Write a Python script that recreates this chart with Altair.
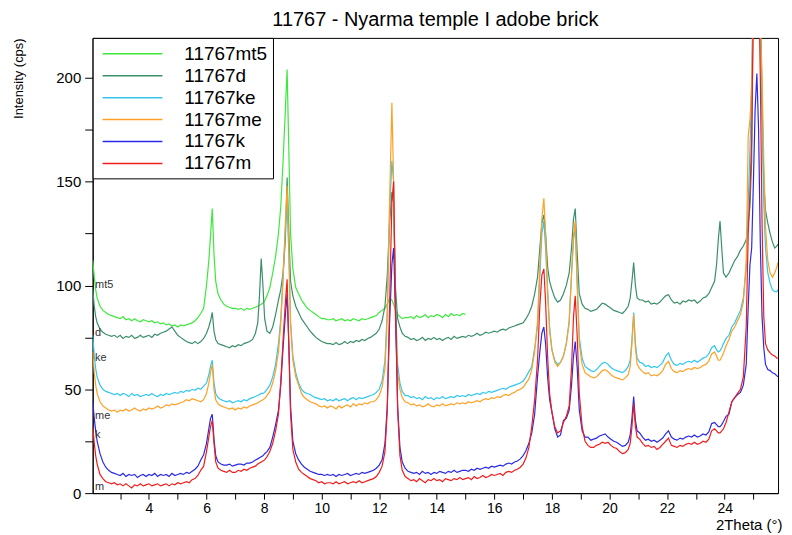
import altair as alt
import pandas as pd

FONT = "Liberation Sans, Arial, sans-serif"
TITLE = "11767 - Nyarma temple I adobe brick"
SERIES = ["11767mt5", "11767d", "11767ke", "11767me", "11767k", "11767m"]
COLORS = ["#3de83d", "#3a8f6a", "#33c6ee", "#ffa024", "#2a2ae6", "#f01c1c"]
SHORT = ["mt5", "d", "ke", "me", "k", "m"]
SHORT_X = 2.13
SHORT_Y = [100, 77, 65, 37, 28, 3]
X_TICKS = [3, 4, 5, 6, 7, 8, 9, 10, 11, 12, 13, 14, 15, 16, 17, 18, 19, 20, 21, 22, 23, 24, 25]
Y_TICKS = [0, 25, 50, 75, 100, 125, 150, 175, 200]

# shared 2Theta sampling positions, by segment
X_SEGS = [
    [2.05, 2.1, 2.15, 2.2, 2.3, 2.4, 2.5, 2.6, 2.7, 2.8, 2.9, 3.0, 3.1, 3.2, 3.3, 3.4, 3.5, 3.6, 3.7, 3.8,
     3.9, 4.0, 4.1, 4.2, 4.3, 4.4, 4.5, 4.6, 4.7, 4.8, 4.9, 5.0, 5.1, 5.2, 5.3, 5.4, 5.5, 5.6, 5.7, 5.8, 5.9],
    [6.0, 6.08, 6.14, 6.2, 6.26, 6.32, 6.4, 6.5, 6.6, 6.7, 6.8, 6.9, 7.0, 7.1, 7.2, 7.3, 7.4, 7.5, 7.6, 7.7,
     7.78, 7.84, 7.9, 7.96, 8.02, 8.1, 8.2, 8.3, 8.4, 8.5],
    [8.58, 8.66, 8.74, 8.8, 8.86, 8.92, 9.0, 9.1, 9.2, 9.3, 9.4],
    [9.5, 9.6, 9.7, 9.8, 9.9, 10.0, 10.1, 10.2, 10.3, 10.4, 10.5, 10.6, 10.7, 10.8, 10.9, 11.0, 11.1, 11.2,
     11.3, 11.4, 11.5, 11.6, 11.7, 11.8, 11.9, 12.0, 12.1],
    [12.2, 12.28, 12.36, 12.44, 12.5, 12.56, 12.64, 12.72, 12.8, 12.9],
    [13.0, 13.1, 13.2, 13.3, 13.4, 13.5, 13.6, 13.7, 13.8, 13.9, 14.0, 14.1, 14.2, 14.3, 14.4, 14.5, 14.6,
     14.7, 14.8, 14.9, 15.0, 15.1, 15.2, 15.3, 15.4, 15.5, 15.6, 15.7, 15.8, 15.9, 16.0, 16.1, 16.2, 16.3,
     16.4, 16.5, 16.6, 16.7, 16.8, 16.9, 17.0, 17.1, 17.2],
    [17.3, 17.4, 17.5, 17.58, 17.65, 17.72, 17.78, 17.85, 17.92, 18.0, 18.1, 18.2, 18.3],
    [18.4, 18.5, 18.6, 18.68, 18.75, 18.81, 18.88, 18.95, 19.05, 19.15],
    [19.25, 19.35, 19.45, 19.55, 19.65, 19.75, 19.85, 19.95, 20.05, 20.15, 20.25, 20.35, 20.45, 20.55,
     20.65, 20.72, 20.78, 20.84, 20.9, 20.96, 21.05],
    [21.15, 21.25, 21.35, 21.45, 21.55, 21.65, 21.75, 21.85, 21.95, 22.05, 22.15, 22.25, 22.35, 22.45,
     22.55, 22.65, 22.75, 22.85, 22.95, 23.05, 23.15, 23.25, 23.35, 23.45, 23.55, 23.65, 23.72, 23.78,
     23.84, 23.9, 23.96, 24.05],
    [24.15, 24.25, 24.35, 24.45, 24.55, 24.65, 24.75, 24.82, 24.88, 24.94, 25.0, 25.06, 25.12, 25.18,
     25.24, 25.3, 25.36, 25.42, 25.5, 25.58, 25.66, 25.74, 25.82, 25.85],
]

MT5 = [
    [112, 104, 98, 94, 90, 88, 87, 86, 85.5, 85, 84.5, 84, 85, 83.5, 84, 83, 84, 83, 82.5, 83.5,
     83, 82.5, 83, 82, 82.5, 81.5, 82, 81, 81.5, 80.5, 81, 80, 81, 80.5, 81, 81.5, 82, 83, 84.5, 86.5, 89],
    [100, 112, 124, 137, 115, 102, 96, 93, 91, 90, 89.5, 89, 89, 88.5, 89, 88, 89, 88.5, 89, 89.5,
     90, 90.5, 91, 91.5, 92.5, 95, 99, 106, 114, 125],
    [138, 160, 185, 204, 165, 125, 108, 99, 96, 93, 91],
    [89, 88, 87, 86, 85, 84, 84, 83.5, 83.5, 84, 83, 83.5, 84, 83, 83.5, 83, 84, 83.5, 83, 84,
     83.5, 84, 84.5, 85, 85.5, 87, 88],
    [89, 91, 94, 93, 91, 88, 86, 85, 84, 84.5],
    [84.5, 85, 84, 85.5, 84.5, 85, 86, 84.5, 85.5, 85, 86, 85.5, 84.5, 86, 85, 86.5, 85.5, 86, 85.5, 86.5, 86],
]

D = [
    [98, 90, 85, 82, 79, 77.5, 76.5, 76, 75.5, 76, 75, 76, 74.5, 75.5, 75, 76, 74.5, 75, 76, 75,
     75.5, 76, 75, 76.5, 76, 77, 77.5, 78, 79, 80, 78, 76, 75, 74, 73, 72.5, 72, 73, 72, 73, 74.5],
    [77, 80, 83, 87, 78, 74, 72, 71.5, 71, 70.5, 70, 71, 70.5, 71.5, 71, 72, 72.5, 73, 74, 77,
     82, 95, 113, 100, 84, 78, 77, 80, 86, 93],
    [98, 106, 122, 152, 125, 102, 95, 90, 87, 84, 82],
    [80, 78, 76.5, 75, 74, 73, 72.5, 72, 72, 71.5, 72.5, 71.5, 72, 73, 72, 73, 72.5, 73.5, 73, 74,
     73.5, 74.5, 75, 76, 77, 79, 83],
    [90, 105, 130, 145, 140, 100, 84, 80, 77, 75.5],
    [75, 74, 74.5, 73.5, 74, 75, 73.5, 74.5, 74, 75, 74, 74.5, 73.5, 74.5, 75, 74, 75.5, 74.5, 75, 75.5,
     75, 76, 75.5, 76, 77, 76, 76.5, 77.5, 77, 77.5, 78, 77.5, 78.5, 79, 78.5, 79.5, 80, 80.5, 81, 81.5,
     82, 84, 86.5],
    [90, 96, 104, 118, 130, 134, 125, 109, 102, 98, 94, 92, 93],
    [96, 100, 106, 118, 132, 137, 115, 96, 91, 89],
    [88.5, 87.5, 88, 88.5, 90, 91.5, 91, 90, 89, 88, 87.5, 87, 86.5, 88, 90, 94, 102, 111, 100, 94, 93],
    [93, 92, 92.5, 91, 91.5, 91, 92, 93.5, 95, 95.5, 93, 91.5, 92, 91, 92.5, 92, 93, 92.5, 93, 91.5,
     92.5, 94, 94.5, 96, 99, 102, 110, 122, 131, 118, 106, 104],
    [106, 109, 112, 114, 117, 119, 122, 130, 138, 160, 250, 260, 260, 260, 240, 190, 150, 136, 130, 125,
     121, 118, 119, 120],
]

KE = [
    [76, 66, 60, 56, 52, 50, 49, 48.5, 48, 47.5, 48, 47, 48, 47.5, 46.5, 48, 47, 47.5, 46.5, 47,
     47.5, 47, 48, 47, 46.5, 47.5, 47, 48, 47.5, 48, 48.5, 48, 49, 48.5, 49.5, 49, 50, 49.5, 50.5, 50, 51.5],
    [53, 57, 61, 64, 53, 48, 46, 45, 44.5, 44, 44.5, 43.5, 44, 44.5, 44, 45, 44.5, 45.5, 46, 46.5,
     47, 47.5, 48, 48, 48.5, 50, 52, 56, 62, 72],
    [84, 104, 128, 140, 115, 82, 66, 58, 53, 50, 48.5],
    [48, 47.5, 46.5, 46, 45.5, 45, 45.5, 44.5, 45, 44.5, 45.5, 44.5, 45, 45.5, 44.5, 45.5, 46, 45, 46, 45.5,
     46, 46.5, 47, 47.5, 48.5, 50, 54],
    [64, 88, 135, 160, 150, 95, 62, 53, 49, 47],
    [47, 46, 46.5, 45.5, 46, 45, 46.5, 45.5, 46, 45, 46, 45.5, 46.5, 45.5, 46, 46.5, 46, 47, 46.5, 47,
     46.5, 47.5, 47, 47.5, 48, 47.5, 48.5, 48, 49, 48.5, 49, 49.5, 50, 50.5, 50, 51, 51.5, 52, 52.5, 53,
     54, 56, 58.5],
    [61, 70, 80, 104, 125, 131, 118, 98, 80, 69, 64, 62, 63],
    [66, 72, 83, 105, 122, 128, 100, 75, 65, 61],
    [60, 59, 58.5, 59.5, 61, 62.5, 63, 62, 60.5, 59.5, 59, 58.5, 58, 59, 61, 64, 74, 87, 72, 65, 63],
    [62.5, 61, 61.5, 60.5, 61, 60.5, 61.5, 63, 66, 67.5, 64, 62, 61.5, 62.5, 62, 63, 63.5, 63, 64, 63,
     64, 65, 65.5, 67, 70, 71, 69, 68, 68.5, 70, 72, 74.5],
    [76, 80, 82, 85, 88, 94, 108, 140, 165, 200, 250, 260, 260, 260, 225, 180, 140, 118, 106, 101,
     98, 97, 97, 98],
]

ME = [
    [68, 58, 52, 48, 44, 42, 41, 40, 39.5, 40, 39, 40, 39.5, 40.5, 39.5, 40, 41, 40, 39.5, 40.5,
     40, 41, 40.5, 41, 42, 41, 41.5, 42.5, 42, 43, 42.5, 43, 43.5, 44, 45, 44.5, 45.5, 45, 44.5, 44, 45],
    [48, 53, 58, 62, 50, 45, 43, 42, 41.5, 41, 40.5, 41, 40, 41, 40.5, 41.5, 41, 42, 42.5, 43,
     43.5, 44, 44.5, 45, 45.5, 47, 49, 53, 59, 68],
    [82, 103, 130, 148, 118, 82, 64, 56, 52, 48, 46],
    [45, 44, 43.5, 43, 42, 41.5, 42, 41, 42, 41.5, 40.5, 42, 41, 42, 42.5, 41.5, 43, 42, 43, 42.5,
     43.5, 43, 44, 44, 45, 47, 51],
    [60, 85, 140, 188, 150, 85, 58, 50, 46, 44],
    [43.5, 42.5, 43, 42, 42.5, 41.5, 42, 43, 42, 41.5, 42.5, 42, 43, 42, 42.5, 43, 42.5, 43.5, 43, 43.5,
     43, 44, 43.5, 44, 44.5, 44, 45, 45.5, 45, 46, 45.5, 46.5, 46, 47, 47.5, 47, 48, 48.5, 49.5, 50,
     51, 53, 55],
    [59.5, 68, 83, 110, 132, 142, 125, 96, 78, 69, 63, 61, 63],
    [66, 72, 82, 105, 124, 131, 100, 72, 62, 58],
    [57, 56, 55.5, 56, 57.5, 59, 59.5, 58.5, 57, 56, 55.5, 55, 54.5, 55.5, 57, 61, 72, 86, 70, 62, 60],
    [58.5, 57.5, 58, 56.5, 57, 56.5, 57.5, 59, 62, 63.5, 60, 58.5, 58, 59, 58.5, 59.5, 60, 59.5, 60.5, 60,
     60.5, 61.5, 62, 63.5, 67, 68, 66, 64, 64, 65.5, 67.5, 71],
    [74, 78, 80, 83, 86, 92, 112, 172, 180, 195, 240, 260, 260, 260, 230, 200, 160, 128, 112, 106,
     104, 106, 109, 111],
]

K = [
    [44, 36, 30, 25, 19, 15, 12.5, 11, 10, 9.5, 9, 8.5, 9.5, 8, 9, 8.5, 9, 7.5, 8.5, 9,
     8, 9, 8.5, 9.5, 8, 9, 8.5, 9, 8, 9.5, 8.5, 9, 9.5, 9, 10, 9.5, 10.5, 11.5, 13, 16, 18.5],
    [24, 31, 36, 38, 26, 18, 15, 14, 13.5, 13.5, 14, 13, 13.5, 14, 14, 13.5, 14.5, 14.5, 15, 16,
     16.5, 17, 17.5, 18, 19, 20, 22, 27, 33, 40],
    [52, 70, 86, 96, 72, 42, 25, 19, 16, 14, 12.5],
    [11.5, 10.5, 10, 9.5, 9, 9, 8.5, 9, 8.5, 9, 8, 9, 8.5, 9, 9.5, 8.5, 9, 9.5, 9, 10,
     9.5, 10, 10.5, 11, 12, 13.5, 16],
    [24, 42, 82, 110, 118, 90, 42, 22, 15, 12],
    [10.5, 10, 9.5, 10, 9, 10.5, 9.5, 10, 9, 10, 9.5, 10.5, 10, 9.5, 10.5, 10, 11, 10, 10.5, 11,
     11, 10.5, 11.5, 11, 12, 11.5, 12, 12.5, 12, 13, 12.5, 13, 13.5, 13, 14, 14.5, 14, 15, 15.5, 16.5,
     18, 20.5, 24],
    [29, 38, 56, 68, 77, 80, 72, 56, 45, 39, 31, 27, 28],
    [35, 36, 40, 52, 66, 73, 60, 40, 30, 27],
    [27, 25.5, 26, 26.5, 27.5, 28, 28.5, 27, 26, 25, 24.5, 23.5, 22.5, 23, 24.5, 28, 36, 46.5, 35, 30, 29],
    [27, 25.5, 26, 25, 25.5, 24.5, 25.5, 26.5, 28.5, 30, 27, 26, 25.5, 26.5, 26, 27, 27.5, 27, 28, 27,
     27.5, 28.5, 28, 29.5, 33.5, 34, 33, 32, 32, 33, 34.5, 37],
    [38, 44, 46, 47.5, 48.5, 52, 62, 90, 110, 118, 150, 185, 202, 175, 120, 85, 70, 62, 59.5, 59,
     58, 57.5, 56.5, 56],
]

M = [
    [32, 24, 18, 14, 9, 7, 5.5, 5, 4.5, 5, 4, 4.5, 3.5, 4.5, 3.5, 2.5, 4, 3.5, 4.5, 3.5,
     4, 4.5, 3.5, 4, 4.5, 3.5, 4, 4.5, 3.5, 4.5, 4, 5, 4.5, 5, 5.5, 5, 6.5, 7, 8.5, 11, 13],
    [20, 27, 32, 35, 24, 15, 12, 11, 10.5, 10, 11, 10, 10, 11, 10.5, 11.5, 11, 12, 12.5, 13,
     14, 14.5, 15, 15.5, 16, 17.5, 20, 24, 30, 38],
    [54, 74, 92, 103, 70, 38, 21, 15, 11.5, 10, 9],
    [8, 7, 6.5, 6, 5, 5.5, 4.5, 5, 5, 4.5, 5.5, 4.5, 5, 5.5, 4.5, 5, 5.5, 5, 6, 5,
     5.5, 6, 6.5, 7, 8, 10, 13],
    [20, 40, 90, 140, 150, 95, 40, 18, 11, 8],
    [7, 6, 6.5, 5.5, 7, 6, 5, 6.5, 6, 7, 6, 6.5, 5.5, 7, 6.5, 6, 7, 6.5, 7.5, 6.5,
     7, 7.5, 6.5, 8, 7, 7.5, 8.5, 7.5, 8, 9, 8.5, 9, 9.5, 8.5, 10, 10.5, 10, 11, 11.5, 12.5,
     14, 17, 22],
    [32, 45, 64, 90, 105, 108, 92, 66, 48, 39, 32, 29, 30],
    [34, 37, 42, 60, 85, 95, 75, 48, 32, 25],
    [23, 22, 22, 23, 23.5, 24.5, 24, 24.5, 23, 22, 21.5, 20, 19, 19.5, 21, 24, 32, 43, 32, 27, 26],
    [24, 22.5, 23, 22, 22.5, 21, 22, 23.5, 25, 26.5, 23, 22.5, 22, 23, 22.5, 23.5, 24, 23.5, 24.5, 23.5,
     24, 25, 24.5, 26, 30, 31, 30, 29, 29, 30, 31, 34],
    [39, 44, 46, 48, 50, 56, 80, 125, 145, 170, 235, 260, 260, 250, 200, 130, 85, 72, 69, 67.5,
     66.5, 66, 65, 65],
]

rows = []
for name, segs in zip(SERIES, [MT5, D, KE, ME, K, M]):
    for i, ys in enumerate(segs):
        xs = X_SEGS[i]
        partial = (name == "11767mt5" and i == len(segs) - 1)
        if not partial and len(xs) != len(ys):
            raise ValueError(f"{name} segment {i}: {len(xs)} x vs {len(ys)} y")
        for xv, yv in zip(xs, ys):
            rows.append({"series": name, "x": xv, "y": yv})
df = pd.DataFrame(rows)
labels = pd.DataFrame({"t": SHORT, "x": [SHORT_X] * len(SHORT), "y": SHORT_Y})

W, H = 688, 457
xscale = alt.Scale(domain=[2.045, 25.855], nice=False, zero=False)
yscale = alt.Scale(domain=[0, 219.2], nice=False)

x_axis = alt.Axis(
    values=X_TICKS, labelExpr="(datum.value % 2 == 0) ? format(datum.value, 'd') : ''",
    labelOverlap=False, labelFlush=False, title="2Theta (°)", tickSize=6, labelPadding=2,
    labelFontSize=14, titleX=W + 4, titleY=32, titleAlign="right", titleBaseline="middle",
    titleFontSize=15)
y_axis = alt.Axis(
    values=Y_TICKS, labelExpr="(datum.value % 50 == 0) ? format(datum.value, 'd') : ''",
    labelOverlap=False, title="Intensity (cps)", tickSize=8, labelPadding=4, titleX=-74, titleY=0,
    titleAlign="right", titleBaseline="middle", titleFontSize=13)

lines = alt.Chart(df).mark_line(strokeWidth=1.2, clip=True).encode(
    x=alt.X("x:Q", scale=xscale, axis=x_axis),
    y=alt.Y("y:Q", scale=yscale, axis=y_axis),
    color=alt.Color("series:N", sort=SERIES, scale=alt.Scale(domain=SERIES, range=COLORS),
                    legend=alt.Legend(title=None, orient="top-left", offset=0, padding=5,
                                      strokeColor="black", fillColor="white",
                                      symbolType="M-3,0H3", symbolSize=400, symbolStrokeWidth=1.5,
                                      symbolOffset=24, labelOffset=41, labelFontSize=19,
                                      labelFont=FONT, labelColor="black", rowPadding=1)),
)

text = alt.Chart(labels).mark_text(align="left", baseline="middle", fontSize=11, font=FONT,
                                   color="#333333").encode(
    x=alt.X("x:Q", scale=xscale, axis=x_axis), y=alt.Y("y:Q", scale=yscale, axis=y_axis), text="t:N")

chart = alt.layer(lines, text).properties(
    width=W, height=H,
    title=alt.Title(TITLE, fontSize=20, font=FONT, fontWeight="normal", anchor="middle", offset=7),
    padding={"left": 4, "top": 1, "right": 2, "bottom": 0},
).configure_view(stroke="black", strokeWidth=1).configure_axis(
    grid=False, domainColor="black", tickColor="black", labelColor="black", titleColor="black",
    labelFont=FONT, titleFont=FONT, labelFontSize=15, titleFontWeight="normal",
)

chart.save("out.html", embed_options={"renderer": "svg", "actions": False})
